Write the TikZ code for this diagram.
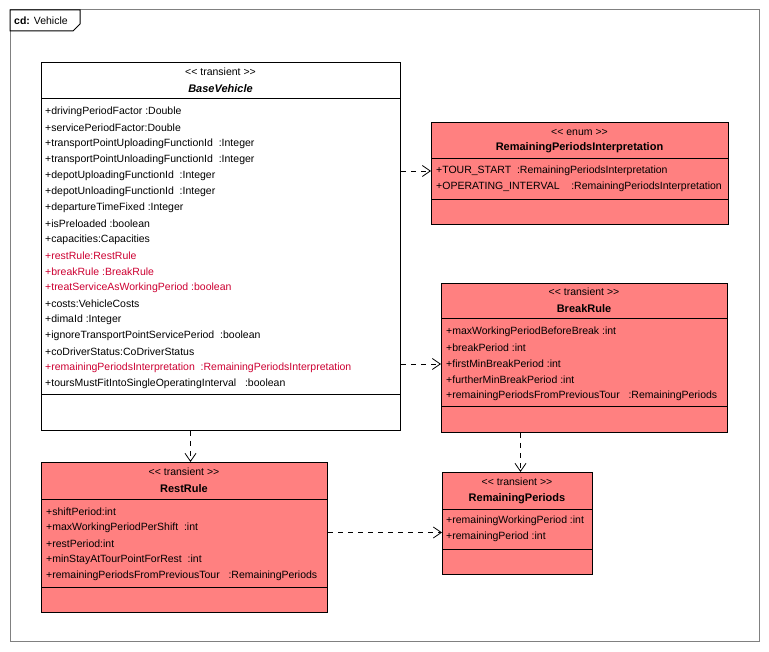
\documentclass[tikz,border=0pt]{standalone}
\usepackage{fontspec}
\setmainfont{Liberation Sans}
\usetikzlibrary{arrows.meta}

\definecolor{classfill}{RGB}{255,128,128}
\definecolor{attrred}{RGB}{205,0,50}
\definecolor{framegray}{RGB}{128,128,128}

\newcommand{\umlstereo}[1]{<{}< #1 >{}>}

\tikzset{
  classbox/.style={draw, line width=1pt, anchor=north west, inner sep=0pt},
  stereo/.style={inner sep=0pt, font=\fontsize{10.5}{12}\selectfont},
  cname/.style={inner sep=0pt, font=\fontsize{11}{13}\selectfont\bfseries},
  attr/.style={anchor=west, inner sep=0pt, font=\fontsize{10.5}{12}\selectfont},
  dep/.style={line width=0.8pt, dash pattern=on 5pt off 5pt,
    -{Straight Barb[length=8pt, width=11pt, line width=0.8pt]}}
}

\begin{document}
\begin{tikzpicture}[x=1pt, y=-1pt]
\useasboundingbox (0,0) rectangle (769,652);

% frame
\draw[framegray, line width=1pt] (10,10) rectangle (759,641);
\draw[line width=1pt, fill=white] (10,10) -- (80,10) -- (80,24) -- (73,31) -- (10,31) -- cycle;
\node[attr] (frame) at (14,21) {\textbf{cd:} Vehicle};

% BaseVehicle
\node[classbox, fill=white, minimum width=359pt, minimum height=368pt] (base) at (41,62) {};
\node[stereo] (base-st) at (220.5,72) {\umlstereo{transient}};
\node[cname] (base-nm) at (220.5,89) {\itshape BaseVehicle};
\draw[line width=1pt] (41,99) -- (400,99);
\draw[line width=1pt] (41,395) -- (400,395);
\foreach \txt/\col [count=\i from 0] in {
  {+drivingPeriodFactor :Double}/black,
  {+servicePeriodFactor:Double}/black,
  {+transportPointUploadingFunctionId~ :Integer}/black,
  {+transportPointUnloadingFunctionId~ :Integer}/black,
  {+depotUploadingFunctionId~ :Integer}/black,
  {+depotUnloadingFunctionId~ :Integer}/black,
  {+departureTimeFixed :Integer}/black,
  {+isPreloaded :boolean}/black,
  {+capacities:Capacities}/black,
  {+restRule:RestRule}/attrred,
  {+breakRule :BreakRule}/attrred,
  {+treatServiceAsWorkingPeriod :boolean}/attrred,
  {+costs:VehicleCosts}/black,
  {+dimaId :Integer}/black,
  {+ignoreTransportPointServicePeriod~ :boolean}/black,
  {+coDriverStatus:CoDriverStatus}/black,
  {+remainingPeriodsInterpretation~ :RemainingPeriodsInterpretation}/attrred,
  {+toursMustFitIntoSingleOperatingInterval~~ :boolean}/black}
  \node[attr, text=\col] (base-\i) at (45,{112+16*\i}) {\txt};

% RemainingPeriodsInterpretation
\node[classbox, fill=classfill, minimum width=297pt, minimum height=102pt] (enum) at (431,122) {};
\node[stereo] (enum-st) at (579.5,132) {\umlstereo{enum}};
\node[cname] (enum-nm) at (579.5,148) {RemainingPeriodsInterpretation};
\draw[line width=1pt] (431,159) -- (728,159);
\draw[line width=1pt] (431,200) -- (728,200);
\node[attr] (enum-0) at (436,171) {+TOUR\_START~ :RemainingPeriodsInterpretation};
\node[attr] (enum-1) at (436,187) {+OPERATING\_INTERVAL~~~ :RemainingPeriodsInterpretation};

% BreakRule
\node[classbox, fill=classfill, minimum width=286pt, minimum height=149pt] (brk) at (441,283) {};
\node[stereo] (brk-st) at (584,292) {\umlstereo{transient}};
\node[cname] (brk-nm) at (584,309) {BreakRule};
\draw[line width=1pt] (441,319) -- (727,319);
\draw[line width=1pt] (441,407) -- (727,407);
\foreach \txt [count=\i from 0] in {
  {+maxWorkingPeriodBeforeBreak :int},
  {+breakPeriod :int},
  {+firstMinBreakPeriod :int},
  {+furtherMinBreakPeriod :int},
  {+remainingPeriodsFromPreviousTour~~ :RemainingPeriods}}
  \node[attr] (brk-\i) at (446,{332+16*\i}) {\txt};

% RestRule
\node[classbox, fill=classfill, minimum width=286pt, minimum height=150pt] (rest) at (41,462) {};
\node[stereo] (rest-st) at (184,472) {\umlstereo{transient}};
\node[cname] (rest-nm) at (184,489) {RestRule};
\draw[line width=1pt] (41,499) -- (327,499);
\draw[line width=1pt] (41,587) -- (327,587);
\foreach \txt [count=\i from 0] in {
  {+shiftPeriod:int},
  {+maxWorkingPeriodPerShift~ :int},
  {+restPeriod:int},
  {+minStayAtTourPointForRest~ :int},
  {+remainingPeriodsFromPreviousTour~~ :RemainingPeriods}}
  \node[attr] (rest-\i) at (46,{512+16*\i}) {\txt};

% RemainingPeriods
\node[classbox, fill=classfill, minimum width=150pt, minimum height=102pt] (rp) at (442,472) {};
\node[stereo] (rp-st) at (517,482) {\umlstereo{transient}};
\node[cname] (rp-nm) at (517,499) {RemainingPeriods};
\draw[line width=1pt] (442,509) -- (592,509);
\draw[line width=1pt] (442,549) -- (592,549);
\node[attr] (rp-0) at (446,521) {+remainingWorkingPeriod :int};
\node[attr] (rp-1) at (446,537) {+remainingPeriod :int};

% dependencies
\coordinate (restdown) at ([xshift=6pt]rest.north);
\coordinate (rpdown) at ([xshift=3pt]rp.north);
\coordinate (restout) at ([yshift=5pt]rest.east);
\draw[dep] (base.east |- enum-0) -- (enum.west |- enum-0);
\draw[dep] (base.east |- brk-2) -- (brk.west |- brk-2);
\draw[dep] (restdown |- base.south) -- (restdown);
\draw[dep] (restout) -- (restout -| rp.west);
\draw[dep] (rpdown |- brk.south) -- (rpdown);

\end{tikzpicture}
\end{document}
